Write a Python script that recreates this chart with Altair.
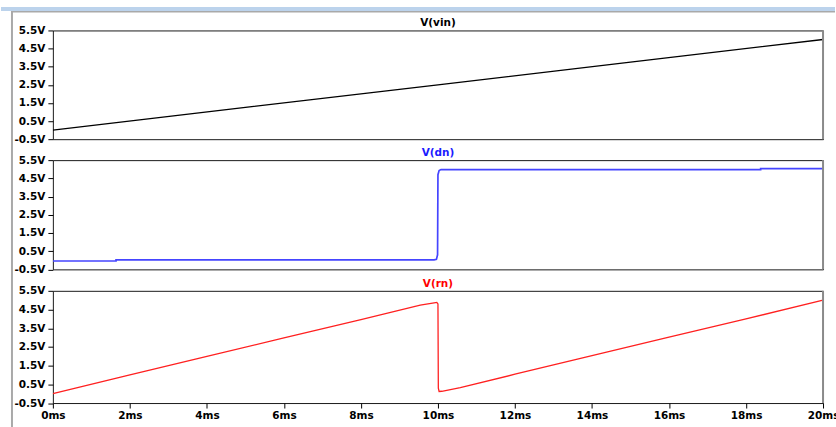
import altair as alt
import pandas as pd

# Transient waveforms (time in ms, voltage in V)
t_vin = [0, 5, 10, 15, 20]
v_vin = [0.0, 1.25, 2.5, 3.75, 5.0]

t_dn = [0, 1.64, 1.64, 9.9, 9.96, 9.99, 10.0, 10.03, 10.08, 18.38, 18.38, 20]
v_dn = [-0.04, -0.04, 0.02, 0.02, 0.05, 0.3, 4.7, 4.93, 4.98, 4.98, 5.03, 5.03]

t_rn = [0, 2, 4, 6, 8, 9.54, 9.9, 9.97, 10.0, 10.01, 10.03, 10.1, 10.58, 12, 14, 16, 18, 20]
v_rn = [0.0, 1.0, 2.0, 2.98, 3.96, 4.74, 4.86, 4.88, 4.8, 0.3, 0.12, 0.13, 0.32, 1.04, 2.03, 3.02, 4.0, 5.0]

trace_names = ["V(vin)", "V(dn)", "V(rn)"]

y_ticks = [-0.5, 0.5, 1.5, 2.5, 3.5, 4.5, 5.5]
x_ticks = [0, 2, 4, 6, 8, 10, 12, 14, 16, 18, 20]

FONT = "DejaVu Sans"
FS = 10.5
PLOT_W = 772

one_row = pd.DataFrame({"k": [0]})

y_label = "(datum.value < 0 ? '-' : '') + format(abs(datum.value), '.1f') + 'V'"


def panel(t, v, name, color, title_color, height, bottom=False, width_px=1.4, chrome=False):
    df = pd.DataFrame({"t": t, "v": v})
    x_axis = alt.Axis(
        values=x_ticks, labelExpr="datum.value + 'ms'", title=None, grid=False,
        domain=False, tickSize=5, tickColor="#000", labelColor="#000",
        labelFont=FONT, labelFontSize=FS, labelFontWeight="bold", labelPadding=2,
        labelFlush=False, labelOverlap=False,
    ) if bottom else None
    line = alt.Chart(df).mark_line(color=color, strokeWidth=width_px, clip=True).encode(
        x=alt.X("t:Q", scale=alt.Scale(domain=[0, 20], nice=False, zero=False),
                axis=x_axis),
        y=alt.Y("v:Q", scale=alt.Scale(domain=[-0.5, 5.5], nice=False, zero=False),
                axis=alt.Axis(values=y_ticks, labelExpr=y_label, title=None, grid=False,
                              domain=False, tickSize=5, tickColor="#000", labelColor="#000",
                              labelFont=FONT, labelFontSize=FS, labelFontWeight="bold",
                              labelPadding=3, labelFlush=False, labelOverlap=False)),
    )
    right_edge = alt.Chart(one_row).mark_rect(color="#8a8a8a").encode(
        x=alt.value(PLOT_W - 1), x2=alt.value(PLOT_W + 1),
        y=alt.value(0), y2=alt.value(height),
    )
    # trace name centred above the panel
    label = alt.Chart(pd.DataFrame({"name": [name]})).mark_text(
        font=FONT, fontSize=FS, fontWeight="bold", color=title_color,
        align="center", baseline="alphabetic",
    ).encode(text="name:N", x=alt.value(PLOT_W / 2), y=alt.value(-4))
    layers = [line, right_edge, label]
    if chrome:
        # window frame: light blue strip, thin gray line and left gray edge
        strip = alt.Chart(one_row).mark_rect(color="#bcd3ec").encode(
            x=alt.value(-52), x2=alt.value(784), y=alt.value(-23.5), y2=alt.value(-19.5))
        hline = alt.Chart(one_row).mark_rect(color="#a9a9a9").encode(
            x=alt.value(-42), x2=alt.value(784), y=alt.value(-19.5), y2=alt.value(-18))
        vline = alt.Chart(one_row).mark_rect(color="#a9a9a9").encode(
            x=alt.value(-42), x2=alt.value(-40), y=alt.value(-19.5), y2=alt.value(397.5))
        layers += [strip, hline, vline]
    return alt.layer(*layers).properties(width=PLOT_W, height=height)


p_vin = panel(t_vin, v_vin, trace_names[0], "#000000", "#000000", 109, width_px=1.3, chrome=True)
p_dn = panel(t_dn, v_dn, trace_names[1], "#4545ff", "#1a1aff", 109.5, width_px=1.7)
p_rn = panel(t_rn, v_rn, trace_names[2], "#ff2020", "#ff0000", 112.5, bottom=True, width_px=1.3)

chart = alt.vconcat(p_vin, p_dn, p_rn, spacing=21, bounds="flush").properties(
    padding={"left": 0, "top": 6, "right": -4, "bottom": 0},
    background="#ffffff",
).configure_view(stroke="#1a1a1a", strokeWidth=1)

chart.save("out.html", embed_options={"renderer": "svg", "actions": False})
